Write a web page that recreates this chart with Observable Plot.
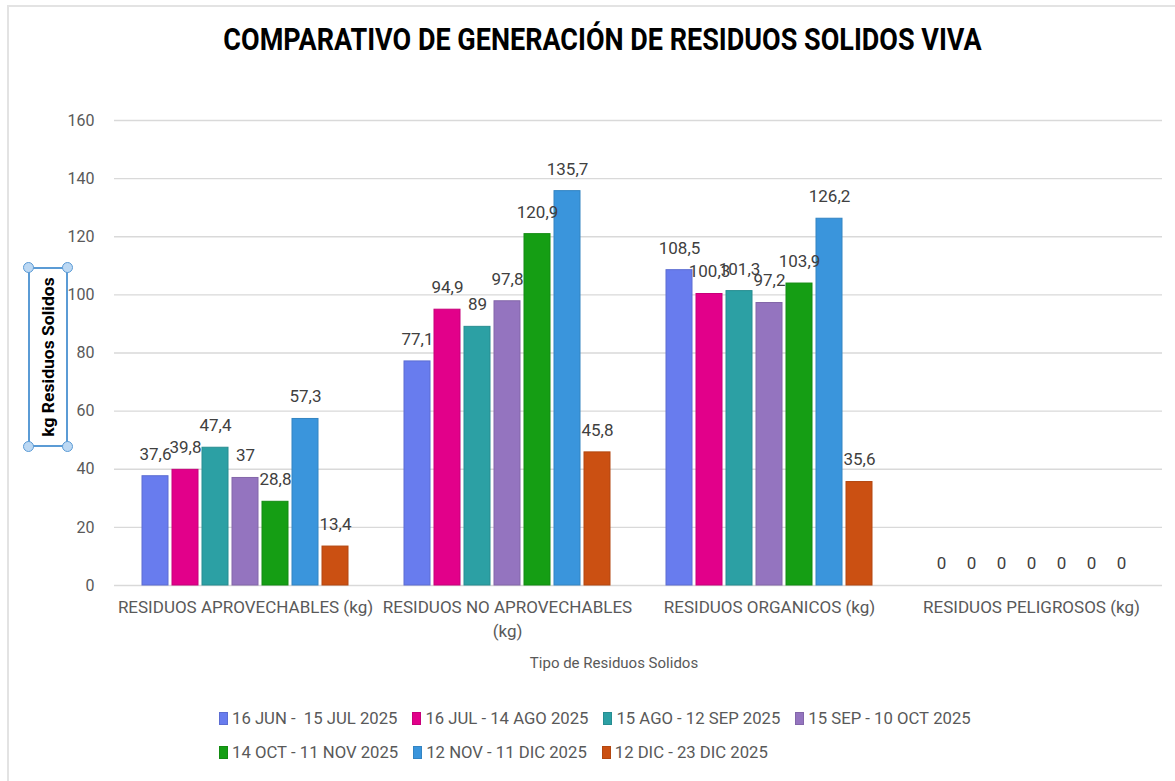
<!DOCTYPE html>
<html>
<head>
<meta charset="utf-8">
<script src="https://cdn.jsdelivr.net/npm/d3@7"></script>
<script src="https://cdn.jsdelivr.net/npm/@observablehq/plot@0.6"></script>
<style>
  html, body { margin: 0; padding: 0; background: #fff; }
  body { width: 1175px; height: 781px; position: relative; overflow: hidden;
         font-family: Roboto, "Liberation Sans", sans-serif; }
  #frame { position: absolute; left: 7px; top: 5px; width: 1200px; height: 800px;
           border-top: 2px solid #e3e3e3; border-left: 2px solid #e3e3e3; }
  #title { position: absolute; left: 0; width: 1205px; top: 24px; text-align: center;
           font-size: 27px; font-weight: bold; color: #000; transform: scaleY(1.15); }
  #chart { position: absolute; left: 0; top: 0; }
  #ylab { position: absolute; left: 28px; top: 267px; width: 40px; height: 180px;
          border: 2px solid #5b9bd5; box-sizing: border-box; }
  #ylab span { position: absolute; left: 50%; top: 50%; transform: translate(-50%,-50%) rotate(-90deg) scaleY(0.92);
               white-space: nowrap; font-weight: bold; font-size: 17.5px; color: #000; }
  .h { position: absolute; width: 9px; height: 9px; border-radius: 50%; background: #bcd8f3;
       border: 1.5px solid #5b9bd5; }
  #xlab { position: absolute; left: 0; width: 1228px; top: 654px; text-align: center; font-size: 15px; color: #595959; }
  #legend { position: absolute; left: 0; top: 709px; width: 1175px; font-size: 16.7px; color: #595959; }
  .row { position: absolute; left: 219px; white-space: nowrap; }
  .item { display: inline-block; margin-right: 15px; }
  .sw { display: inline-block; width: 9px; height: 13px; margin-right: 4px; vertical-align: -1px; box-sizing: border-box; }
</style>
</head>
<body>
<div id="frame"></div>
<div id="title">COMPARATIVO DE GENERACIÓN DE RESIDUOS SOLIDOS VIVA</div>
<div id="chart"></div>
<div id="ylab"><span>kg Residuos Solidos</span>
  <div class="h" style="left:-7px;top:-7px"></div><div class="h" style="right:-7px;top:-7px"></div>
  <div class="h" style="left:-7px;bottom:-7px"></div><div class="h" style="right:-7px;bottom:-7px"></div>
</div>
<div id="xlab">Tipo de Residuos Solidos</div>
<div id="legend"></div>
<script>
const categories = [
  "RESIDUOS APROVECHABLES (kg)",
  "RESIDUOS NO APROVECHABLES (kg)",
  "RESIDUOS ORGANICOS (kg)",
  "RESIDUOS PELIGROSOS (kg)"
];
const series = [
  "16 JUN -  15 JUL 2025",
  "16 JUL - 14 AGO 2025",
  "15 AGO - 12 SEP 2025",
  "15 SEP - 10 OCT 2025",
  "14 OCT - 11 NOV 2025",
  "12 NOV - 11 DIC 2025",
  "12 DIC - 23 DIC 2025"
];
const colors = ["#687cee", "#e2008a", "#2ca0a4", "#9474bf", "#159e14", "#3a95dc", "#cb5012"];
// values per series, in category order
const v1 = [37.6, 77.1, 108.5, 0];
const v2 = [39.8, 94.9, 100.3, 0];
const v3 = [47.4, 89, 101.3, 0];
const v4 = [37, 97.8, 97.2, 0];
const v5 = [28.8, 120.9, 103.9, 0];
const v6 = [57.3, 135.7, 126.2, 0];
const v7 = [13.4, 45.8, 35.6, 0];
const yTicks = [0, 20, 40, 60, 80, 100, 120, 140, 160];
const catLabels = {
  "RESIDUOS NO APROVECHABLES (kg)": "RESIDUOS NO APROVECHABLES\n(kg)"
};

const allVals = [v1, v2, v3, v4, v5, v6, v7];
const data = [];
series.forEach((s, i) => categories.forEach((c, j) => data.push({cat: c, ser: s, val: allVals[i][j]})));
const fmt = d => String(d).replace(".", ",");
const strokeOf = d => d3.color(colors[series.indexOf(d.ser)]).darker(0.35).formatHex();

const plot = Plot.plot({
  width: 1175,
  height: 781,
  marginTop: 120,
  marginBottom: 196,
  marginLeft: 113,
  marginRight: 13,
  style: {fontFamily: "Roboto, 'Liberation Sans', sans-serif", fontSize: "16px", color: "#595959", background: "transparent"},
  fx: {domain: categories, padding: 0, label: null},
  x: {domain: series, paddingInner: 0.15, paddingOuter: 0.875, axis: null},
  y: {domain: [0, 160], ticks: yTicks, label: null},
  color: {domain: series, range: colors},
  marks: [
    Plot.gridY(yTicks, {stroke: "#d9d9d9", strokeOpacity: 1, strokeWidth: 1.3}),
    Plot.axisY(yTicks, {tickSize: 0, tickPadding: 20, fill: "#595959", fontSize: 16, label: null}),
    Plot.axisFx({anchor: "bottom", tickSize: 0, tickPadding: 10, fontSize: 17, fill: "#595959", tickFormat: d => catLabels[d] || d, label: null, lineHeight: 1.42}),
    Plot.barY(data, {fx: "cat", x: "ser", y: "val", fill: "ser", stroke: {value: strokeOf, scale: null}, strokeWidth: 1}),
    Plot.text(data, {fx: "cat", x: "ser", y: "val", text: d => fmt(d.val), dy: -22, fill: "#404040", fontSize: 17})
  ]
});
document.getElementById("chart").appendChild(plot);

const leg = document.getElementById("legend");
const rows = [[0, 1, 2, 3], [4, 5, 6]];
rows.forEach((r, k) => {
  const row = document.createElement("div");
  row.className = "row";
  row.style.top = (k * 34) + "px";
  r.forEach(i => {
    const it = document.createElement("span");
    it.className = "item";
    it.innerHTML = `<span class="sw" style="background:${colors[i]};border:1px solid ${d3.color(colors[i]).darker(0.35).formatHex()}"></span>${series[i].replace(/ /g, "&nbsp;")}`;
    row.appendChild(it);
  });
  leg.appendChild(row);
});
</script>
</body>
</html>
